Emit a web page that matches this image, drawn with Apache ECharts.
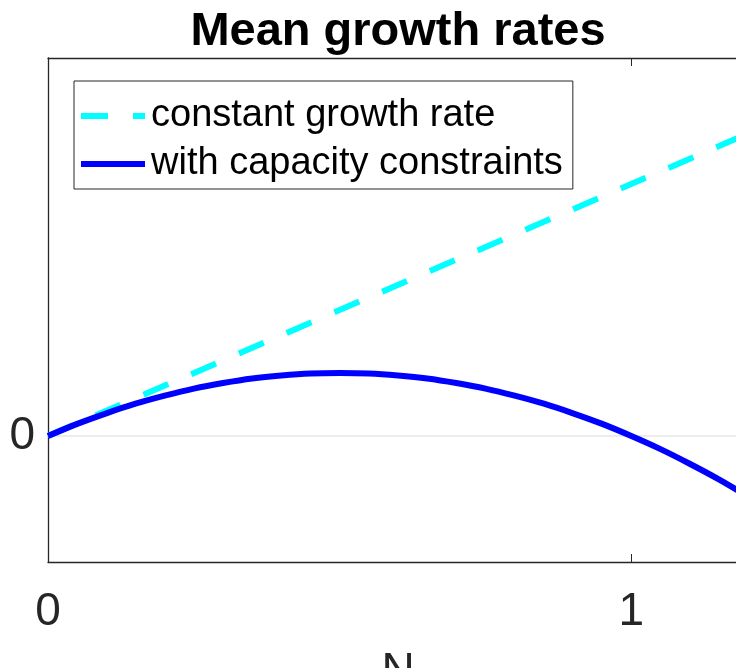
<!DOCTYPE html>
<html>
<head>
<meta charset="utf-8">
<script src="https://cdn.jsdelivr.net/npm/echarts@6/dist/echarts.min.js"></script>
<style>
  html, body { margin: 0; padding: 0; overflow: hidden; background: #fff; }
  #chart { width: 760px; height: 700px; }
</style>
</head>
<body>
<div id="chart"></div>
<script>
// Population size N
const nValues = [0, 0.05, 0.1, 0.15, 0.2, 0.25, 0.3, 0.35, 0.4, 0.45, 0.5, 0.55, 0.6,
                 0.65, 0.7, 0.75, 0.8, 0.85, 0.9, 0.95, 1, 1.05, 1.1, 1.15, 1.2];
// Mean growth with capacity constraints
const capacityRate = [0, 0.048, 0.09, 0.128, 0.16, 0.188, 0.21, 0.228, 0.24, 0.248, 0.25, 0.248, 0.24,
                      0.228, 0.21, 0.188, 0.16, 0.128, 0.09, 0.048, 0, -0.052, -0.11, -0.172, -0.24];
// Mean growth at a constant rate (straight line)
const constantN = [0, 1.2];
const constantRate = [0, 1.2];
const seriesNames = ['constant growth rate', 'with capacity constraints'];
const xTickLabels = ['0', '1'];
const yTickLabels = ['0'];

const axisColor = '#262626';
const fontFamily = '"Liberation Sans", Arial, Helvetica, sans-serif';

// Legend glyphs: two dashes for the dashed line, one bar for the solid one
const dashedIcon = 'path://M0,0 H27 V6 H0 Z M52,0 H64 V6 H52 Z';
const solidIcon = 'path://M0,0 H64 V6 H0 Z';

const chart = echarts.init(document.getElementById('chart'), null, { renderer: 'canvas' });

const zip = (xs, ys) => xs.map((x, i) => [x, ys[i]]);

chart.setOption({
  animation: false,
  backgroundColor: '#fff',
  title: {
    text: 'Mean growth rates',
    left: 393,
    textAlign: 'center',
    top: 4,
    textStyle: { fontFamily, fontSize: 47, fontWeight: 'bold', color: '#000' }
  },
  grid: { left: 48, top: 58, width: 700, height: 509, containLabel: false },
  legend: {
    orient: 'vertical',
    left: 74,
    top: 81,
    padding: [16, 10, 6, 7],
    itemWidth: 64,
    itemHeight: 6,
    itemGap: 10,
    backgroundColor: '#fff',
    borderColor: axisColor,
    borderWidth: 1,
    borderRadius: 0,
    textStyle: { fontFamily, fontSize: 38, color: '#000', lineHeight: 38, padding: [0, 0, 0, 1] },
    data: [
      { name: seriesNames[0], icon: dashedIcon, itemStyle: { color: '#00ffff' } },
      { name: seriesNames[1], icon: solidIcon, itemStyle: { color: '#0000ff' } }
    ]
  },
  xAxis: [
    {
      type: 'value',
      min: 0, max: 1.2, interval: 1,
      position: 'bottom',
      name: 'N',
      nameLocation: 'middle',
      nameGap: 87,
      nameTextStyle: { fontFamily, fontSize: 46, color: axisColor },
      axisLine: { show: true, onZero: false, lineStyle: { color: axisColor, width: 1.3 } },
      axisTick: { show: true, inside: true, length: 8, lineStyle: { color: axisColor } },
      axisLabel: {
        fontFamily, fontSize: 46, color: axisColor, margin: 27,
        showMaxLabel: false,
        formatter: v => (v === 0 ? xTickLabels[0] : v === 1 ? xTickLabels[1] : '')
      },
      splitLine: { show: false }
    },
    {
      type: 'value',
      min: 0, max: 1.2, interval: 1,
      position: 'top',
      axisLine: { show: true, onZero: false, lineStyle: { color: axisColor, width: 1.3 } },
      axisTick: { show: true, inside: true, length: 8, lineStyle: { color: axisColor } },
      axisLabel: { show: false },
      splitLine: { show: false }
    }
  ],
  yAxis: [
    {
      type: 'value',
      min: -0.5, max: 1.5, interval: 0.5,
      position: 'left',
      axisLine: { show: true, onZero: false, lineStyle: { color: axisColor, width: 1.3 } },
      axisTick: { show: false },
      axisLabel: {
        fontFamily, fontSize: 46, color: axisColor, margin: 13,
        formatter: v => (v === 0 ? yTickLabels[0] : '')
      },
      splitLine: { show: false }
    },
    {
      type: 'value',
      min: -0.5, max: 1.5, interval: 0.5,
      position: 'right',
      axisLine: { show: true, onZero: false, lineStyle: { color: axisColor, width: 1.3 } },
      axisTick: { show: false },
      axisLabel: { show: false },
      splitLine: { show: false }
    }
  ],
  series: [
    {
      name: seriesNames[0],
      type: 'line',
      data: zip(constantN, constantRate),
      symbol: 'none',
      color: '#00ffff',
      lineStyle: { color: '#00ffff', width: 6, type: [27, 25], cap: 'butt' },
      markLine: {
        silent: true,
        symbol: 'none',
        label: { show: false },
        lineStyle: { color: '#e6e6e6', width: 1.5, type: 'solid' },
        data: [{ yAxis: 0 }],
        z: 1
      },
      z: 2
    },
    {
      name: seriesNames[1],
      type: 'line',
      data: zip(nValues, capacityRate),
      symbol: 'none',
      smooth: 0.3,
      color: '#0000ff',
      lineStyle: { color: '#0000ff', width: 6 },
      z: 3
    }
  ]
});
</script>
</body>
</html>
